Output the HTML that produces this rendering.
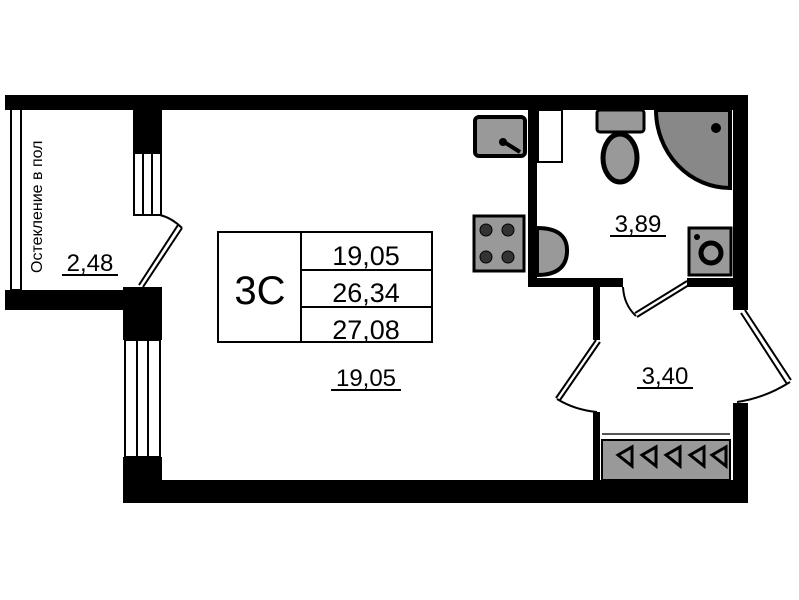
<!DOCTYPE html>
<html><head><meta charset="utf-8"><style>
html,body{margin:0;padding:0;background:#fff}
svg{display:block}
text{font-family:"Liberation Sans",sans-serif;fill:#000}
</style></head><body>
<svg width="799" height="600" viewBox="0 0 799 600" xmlns="http://www.w3.org/2000/svg">
<rect width="799" height="600" fill="#fff"/>
<!-- walls -->
<rect x="5" y="95" width="743" height="15" fill="#000"/>
<rect x="133" y="95" width="29" height="58" fill="#000"/>
<rect x="733" y="95" width="15" height="215" fill="#000"/>
<rect x="733" y="403" width="15" height="100" fill="#000"/>
<rect x="123" y="480" width="625" height="23" fill="#000"/>
<rect x="5" y="290" width="130" height="20" fill="#000"/>
<rect x="123" y="287" width="39" height="53" fill="#000"/>
<rect x="123" y="457" width="39" height="46" fill="#000"/>
<!-- windows -->
<g fill="none" stroke="#000" stroke-width="2">
<rect x="134" y="153" width="27" height="62"/>
<line x1="143" y1="153" x2="143" y2="215"/><line x1="152" y1="153" x2="152" y2="215"/>
<rect x="125" y="340" width="35" height="117"/>
<line x1="137" y1="340" x2="137" y2="457"/><line x1="148" y1="340" x2="148" y2="457"/>
<rect x="11" y="107" width="10" height="183"/>
<path d="M160 215 Q172 218 182 228"/>
<path d="M182 228 L143 287 M178 225 L139 285"/>
</g>
<text x="0" y="0" font-size="16" transform="translate(42,273) rotate(-90)">Остекление в пол</text>
<!-- bathroom walls -->
<rect x="528" y="110" width="9" height="177" fill="#000"/>
<rect x="528" y="278" width="95" height="9" fill="#000"/>
<rect x="687" y="278" width="46" height="9" fill="#000"/>
<rect x="593" y="287" width="7" height="53" fill="#000"/>
<rect x="593" y="412" width="7" height="68" fill="#000"/>
<g fill="none" stroke="#000" stroke-width="2">
<path d="M687 281 L635 313 M689 285 L637 317"/>
<path d="M623 287 Q624 305 636 316"/>
<path d="M596 340 L556 398 M600 342 L560 400"/>
<path d="M557 399 Q575 410 597 412"/>
<path d="M745 310 L791 380 M741 313 L787 384"/>
<path d="M790 382 Q765 398 737 402"/>
</g>
<!-- fixtures -->
<rect x="538" y="110" width="24" height="52" fill="#fff" stroke="#000" stroke-width="2"/>
<rect x="475" y="117" width="50" height="39" rx="4" fill="#999" stroke="#000" stroke-width="4"/>
<path d="M504 142 L520 152" stroke="#000" stroke-width="4"/><circle cx="503" cy="142" r="4" fill="#000"/>
<rect x="474" y="216" width="50" height="55" fill="#999" stroke="#000" stroke-width="3"/>
<g fill="#333" stroke="#000"><circle cx="486" cy="230" r="6"/><circle cx="508" cy="230" r="6"/><circle cx="486" cy="257" r="6"/><circle cx="508" cy="257" r="6"/></g>
<path d="M537 228 Q568 228 567 252 Q566 275 537 275 Z" fill="#999" stroke="#000" stroke-width="4"/>
<rect x="597" y="110" width="47" height="22" rx="3" fill="#999" stroke="#000" stroke-width="3"/>
<ellipse cx="620" cy="158" rx="17" ry="24" fill="#999" stroke="#000" stroke-width="5"/>
<path d="M656 110 L730 110 L730 188 A74 78 0 0 1 656 110 Z" fill="#888" stroke="#000" stroke-width="4"/>
<circle cx="716" cy="128" r="5" fill="#000"/>
<rect x="689" y="228" width="42" height="47" fill="#999" stroke="#000" stroke-width="3"/>
<circle cx="711" cy="253" r="10" fill="#999" stroke="#000" stroke-width="5"/>
<circle cx="697" cy="237" r="3" fill="#000"/>
<!-- wardrobe -->
<rect x="602" y="440" width="128" height="40" fill="#999" stroke="#000" stroke-width="2"/>
<line x1="602" y1="434" x2="730" y2="434" stroke="#555" stroke-width="2"/>
<g fill="none" stroke="#000" stroke-width="3">
<path d="M618 455 L632 447 L632 466 Z"/><path d="M642 455 L656 447 L656 466 Z"/><path d="M666 455 L680 447 L680 466 Z"/><path d="M690 455 L704 447 L704 466 Z"/><path d="M712 455 L726 447 L726 466 Z"/>
</g>
<!-- table -->
<g fill="none" stroke="#000" stroke-width="2">
<rect x="218" y="232" width="214" height="110"/>
<line x1="301" y1="232" x2="301" y2="342"/>
<line x1="301" y1="270" x2="432" y2="270"/>
<line x1="301" y1="307" x2="432" y2="307"/>
</g>
<text x="260" y="304" font-size="40" text-anchor="middle">3C</text>
<text x="366" y="265" font-size="27" text-anchor="middle">19,05</text>
<text x="366" y="302" font-size="27" text-anchor="middle">26,34</text>
<text x="366" y="339" font-size="27" text-anchor="middle">27,08</text>
<!-- area labels -->
<g font-size="24" text-anchor="middle">
<text x="90" y="271">2,48</text>
<text x="366" y="386">19,05</text>
<text x="638" y="232">3,89</text>
<text x="665" y="384">3,40</text>
</g>
<g stroke="#000" stroke-width="2">
<line x1="62" y1="275" x2="118" y2="275"/>
<line x1="331" y1="390" x2="401" y2="390"/>
<line x1="610" y1="236" x2="666" y2="236"/>
<line x1="637" y1="388" x2="693" y2="388"/>
</g>
</svg>
</body></html>
